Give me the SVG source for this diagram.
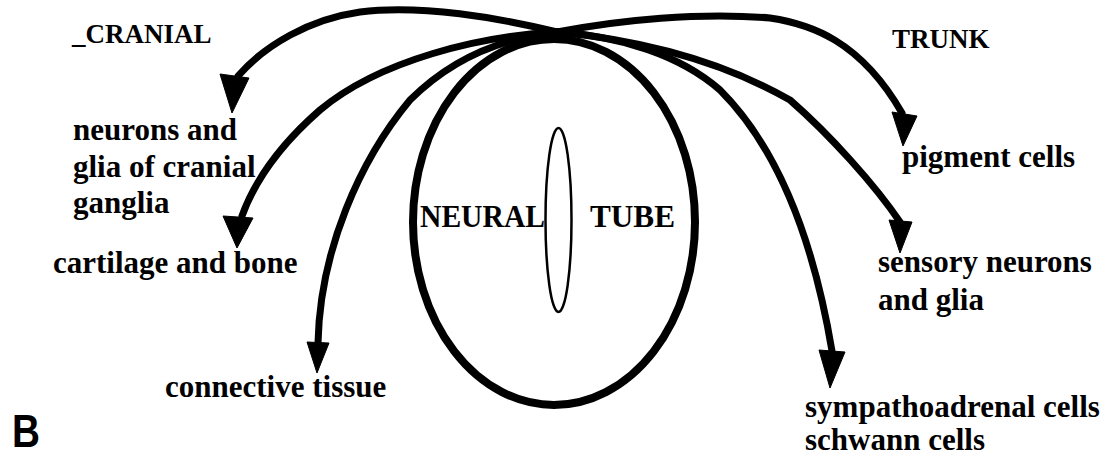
<svg xmlns="http://www.w3.org/2000/svg" width="1114" height="462" viewBox="0 0 1114 462">
<style>
.bg{fill:#fff}
.shaft{fill:none;stroke:#000;stroke-width:7;stroke-linecap:round}
.head{fill:#000;stroke:#000;stroke-width:1;stroke-linejoin:round}
.tube{fill:none;stroke:#000;stroke-width:8}
.lumen{fill:none;stroke:#000;stroke-width:2.5}
.lbl{font-family:"Liberation Serif","Times New Roman",serif;font-weight:bold;font-size:31px;fill:#000}
.hdr{font-family:"Liberation Serif","Times New Roman",serif;font-weight:bold;font-size:27px;fill:#000}
.big{font-family:"Liberation Serif","Times New Roman",serif;font-weight:bold;font-size:32px;fill:#000}
.panel{font-family:"Liberation Sans",Arial,sans-serif;font-weight:bold;font-size:47px;fill:#000}
</style>
<rect class="bg" x="0" y="0" width="1114" height="462"/>
<g id="neural-tube">
<ellipse class="tube" cx="554" cy="222" rx="141" ry="183"/>
<ellipse class="lumen" cx="558.5" cy="220" rx="13" ry="92"/>
<text class="big" x="420" y="227" textLength="125" lengthAdjust="spacingAndGlyphs">NEURAL</text>
<text class="big" x="590" y="227" textLength="85" lengthAdjust="spacingAndGlyphs">TUBE</text>
</g>
<g id="connectors">
<path class="shaft" d="M557,32 C500,18 420,4 360,12 C310,19 265,45 238,76"/>
<polygon class="head" points="220,74 249,78 232,113"/>
<path class="shaft" d="M557,32 C480,36 380,60 320,110 C280,145 255,180 242,216"/>
<polygon class="head" points="223,216 253,218 237,248"/>
<path class="shaft" d="M557,32 C500,38 450,60 410,100 C360,160 320,250 318,343"/>
<polygon class="head" points="307,342 329,343 317,373"/>
<path class="shaft" d="M557,32 C620,20 700,12 770,18 C810,24 860,40 902,113"/>
<polygon class="head" points="892,112 917,116 903,146"/>
<path class="shaft" d="M557,32 C640,40 720,60 790,100 C830,135 875,185 900,222"/>
<polygon class="head" points="889,220 912,222 900,253"/>
<path class="shaft" d="M557,32 C620,36 680,55 720,90 C770,140 810,220 832,351"/>
<polygon class="head" points="819,350 845,352 830,388"/>
</g>
<g id="cranial-header"><text class="hdr" x="72" y="43">_CRANIAL</text></g>
<g id="trunk-header"><text class="hdr" x="892" y="48">TRUNK</text></g>
<g id="neurons-glia-cranial">
<text class="lbl" x="73" y="140">neurons and</text>
<text class="lbl" x="73" y="177">glia of cranial</text>
<text class="lbl" x="73" y="213">ganglia</text>
</g>
<g id="cartilage-bone"><text class="lbl" x="53" y="273">cartilage and bone</text></g>
<g id="connective-tissue"><text class="lbl" x="165" y="397">connective tissue</text></g>
<g id="pigment-cells"><text class="lbl" x="902" y="167">pigment cells</text></g>
<g id="sensory-neurons">
<text class="lbl" x="878" y="272">sensory neurons</text>
<text class="lbl" x="878" y="310">and glia</text>
</g>
<g id="sympathoadrenal">
<text class="lbl" x="805" y="417">sympathoadrenal cells</text>
<text class="lbl" x="805" y="450">schwann cells</text>
</g>
<g id="panel-label"><text class="panel" x="12" y="447" textLength="28" lengthAdjust="spacingAndGlyphs">B</text></g>
</svg>
